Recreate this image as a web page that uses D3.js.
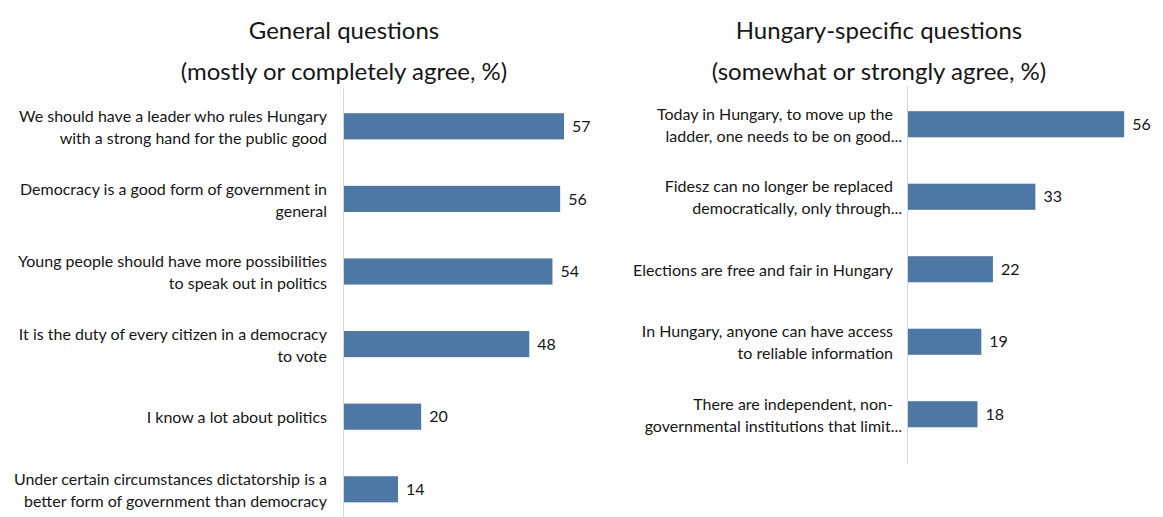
<!DOCTYPE html>
<html>
<head>
<meta charset="utf-8">
<script src="https://cdn.jsdelivr.net/npm/d3@7"></script>
<style>
  body { margin: 0; background: #fff; }
  text { font-family: Lato, "Open Sans", sans-serif; fill: #161616; }
</style>
</head>
<body>
<div id="chart"></div>
<script>
(function(d3) {
  'use strict';

  // left panel data
  var generalLabels = [
    ['We should have a leader who rules Hungary', 'with a strong hand for the public good'],
    ['Democracy is a good form of government in', 'general'],
    ['Young people should have more possibilities', 'to speak out in politics'],
    ['It is the duty of every citizen in a democracy', 'to vote'],
    ['I know a lot about politics'],
    ['Under certain circumstances dictatorship is a', 'better form of government than democracy']
  ];
  var generalValues = [57, 56, 54, 48, 20, 14];

  // right panel data
  var hungaryLabels = [
    ['Today in Hungary, to move up the', 'ladder, one needs to be on good...'],
    ['Fidesz can no longer be replaced', 'democratically, only through...'],
    ['Elections are free and fair in Hungary'],
    ['In Hungary, anyone can have access', 'to reliable information'],
    ['There are independent, non-', 'governmental institutions that limit...']
  ];
  var hungaryValues = [56, 33, 22, 19, 18];

  var titles = [
    ['General questions', '(mostly or completely agree, %)'],
    ['Hungary-specific questions', '(somewhat or strongly agree, %)']
  ];

  var width = 1163;
  var height = 517;
  var barColor = '#4d77a5';
  var unit = 3.86;
  var lineH = 22;

  var svg = d3.select('#chart')
    .append('svg')
    .attr('width', width)
    .attr('height', height);

  function panel(opts) {
    var g = svg.append('g')
      .attr('transform', 'translate(' + opts.left + ',' + opts.top + ')');

    var x = d3.scaleLinear()
      .domain([0, 60])
      .range([0, 60 * unit]);

    var y = d3.scaleBand()
      .domain(d3.range(opts.values.length))
      .range([0, opts.band * opts.values.length])
      .paddingInner(0.64)
      .paddingOuter(0.32);

    g.append('line')
      .attr('x1', 0.5).attr('x2', 0.5)
      .attr('y1', -2)
      .attr('y2', opts.axisEnd)
      .style('stroke', '#d9d9d9')
      .style('stroke-width', 1);

    var rows = g.selectAll('.row')
      .data(opts.values)
      .enter()
      .append('g')
      .attr('class', 'row');

    rows.append('rect')
      .attr('x', 1)
      .attr('y', function(d, i){ return y(i); })
      .attr('width', function(d){ return x(d); })
      .attr('height', y.bandwidth())
      .style('fill', barColor);

    rows.append('text')
      .attr('x', function(d){ return x(d) + 9; })
      .attr('y', function(d, i){ return y(i) + y.bandwidth() / 2; })
      .attr('dy', '0.35em')
      .style('font-size', '16px')
      .text(function(d){ return d; });

    rows.append('text')
      .attr('text-anchor', 'end')
      .attr('y', function(d, i){
        var n = opts.labels[i].length;
        return y(i) + y.bandwidth() / 2 - (n - 1) * lineH / 2 + 1;
      })
      .style('font-size', '16px')
      .each(function(d, i){
        var t = d3.select(this);
        opts.labels[i].forEach(function(line, k){
          // truncated lines (ending in an ellipsis) run a little past the others
          var shift = /\.\.\.$/.test(line) ? opts.ellipsisShift : 0;
          t.append('tspan')
            .attr('x', -opts.labelGap + shift)
            .attr('dy', k === 0 ? '0.35em' : lineH + 'px')
            .text(line);
        });
      });

    var title = svg.append('text')
      .attr('text-anchor', 'middle')
      .style('font-size', '24px');
    opts.title.forEach(function(line, k){
      title.append('tspan')
        .attr('x', opts.titleX)
        .attr('y', 39 + k * 41)
        .text(line);
    });
  }

  panel({
    left: 343, top: 90, band: 72.6,
    values: generalValues, labels: generalLabels,
    axisEnd: 440, labelGap: 16, ellipsisShift: 0,
    title: titles[0], titleX: 344
  });

  panel({
    left: 907, top: 88, band: 72.5,
    values: hungaryValues, labels: hungaryLabels,
    axisEnd: 376, labelGap: 14, ellipsisShift: 9,
    title: titles[1], titleX: 879
  });

})(window.d3);
</script>
</body>
</html>
